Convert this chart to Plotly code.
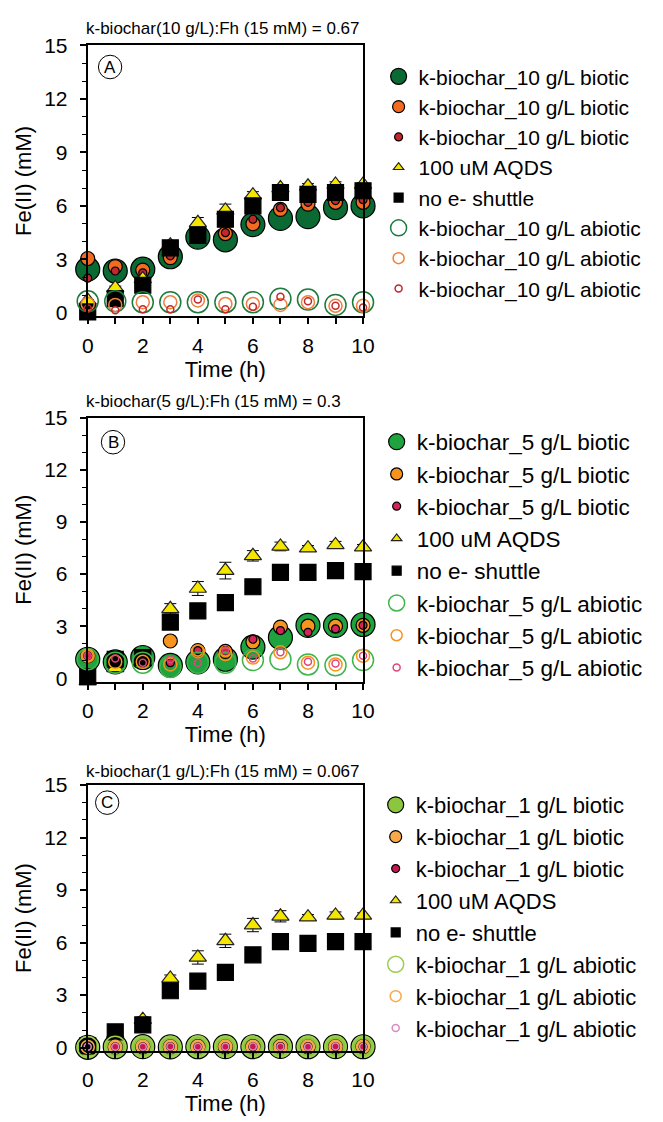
import plotly.graph_objects as go

hours = list(range(11))

# ---- Panel A: k-biochar 10 g/L ----
a_biotic_1 = [2.45, 2.35, 2.45, 3.15, 4.25, 4.1, 4.95, 5.3, 5.4, 5.9, 6.0]
a_biotic_2 = [3.05, 2.6, 2.4, 3.1, 4.3, 4.45, 5.0, 5.8, 6.1, 6.2, 6.2]
a_biotic_3 = [1.95, 2.35, 2.25, 3.2, 4.3, 4.5, 5.25, 5.9, 6.2, 6.3, 6.35]
a_aqds = [0.7, 1.4, 1.9, 3.8, 5.05, 5.75, 6.6, 7.0, 7.1, 7.2, 7.2]
a_aqds_err = [0.05, 0.1, 0.1, 0.2, 0.3, 0.35, 0.2, 0.15, 0.15, 0.15, 0.1]
a_no_shuttle = [0.05, 0.8, 1.55, 3.65, 4.35, 5.25, 6.0, 6.75, 6.65, 6.75, 6.85]
a_abiotic_1 = [0.65, 0.65, 0.6, 0.6, 0.6, 0.6, 0.6, 0.8, 0.75, 0.45, 0.6]
a_abiotic_2 = [0.5, 0.45, 0.6, 0.6, 0.7, 0.5, 0.5, 0.45, 0.6, 0.4, 0.4]
a_abiotic_3 = [0.25, 0.15, 0.2, 0.2, 0.75, 0.2, 0.35, 0.9, 0.65, 0.4, 0.3]

# ---- Panel B: k-biochar 5 g/L ----
b_biotic_1 = [1.1, 0.95, 1.2, 0.75, 0.95, 1.1, 1.8, 2.35, 3.05, 3.05, 3.1]
b_biotic_2 = [1.3, 1.0, 1.0, 2.15, 1.6, 1.55, 2.1, 2.95, 3.0, 3.0, 3.05]
b_biotic_3 = [1.3, 1.2, 0.9, 0.9, 1.6, 1.6, 2.25, 2.75, 2.65, 2.85, 3.05]
b_aqds = [-0.15, 0.6, 1.2, 4.0, 5.17, 6.2, 7.05, 7.59, 7.49, 7.68, 7.55]
b_aqds_err = [0.05, 0.1, 0.1, 0.3, 0.4, 0.48, 0.3, 0.25, 0.15, 0.2, 0.15]
b_no_shuttle = [0.1, 1.1, 1.2, 3.24, 3.88, 4.36, 5.27, 6.1, 6.1, 6.2, 6.14]
b_abiotic_1 = [1.1, 0.9, 0.9, 0.65, 0.9, 0.9, 1.05, 1.1, 0.8, 0.75, 1.05]
b_abiotic_2 = [1.3, 0.95, 0.95, 0.8, 1.55, 1.4, 1.2, 1.5, 0.9, 0.8, 1.3]
b_abiotic_3 = [1.3, 1.15, 0.9, 1.1, 0.9, 1.6, 1.15, 1.5, 0.95, 0.85, 1.3]

# ---- Panel C: k-biochar 1 g/L ----
c_biotic_1 = [0.02, 0.05, 0.06, 0.04, 0.05, 0.06, 0.05, 0.07, 0.05, 0.06, 0.05]
c_biotic_2 = [0.03, 0.04, 0.05, 0.05, 0.06, 0.05, 0.06, 0.06, 0.05, 0.05, 0.06]
c_biotic_3 = [0.04, 0.05, 0.05, 0.06, 0.05, 0.05, 0.05, 0.06, 0.06, 0.05, 0.05]
c_aqds = [-0.12, 0.8, 1.6, 3.95, 5.15, 6.1, 7.0, 7.5, 7.45, 7.55, 7.55]
c_aqds_err = [0.05, 0.1, 0.15, 0.2, 0.38, 0.38, 0.38, 0.32, 0.15, 0.2, 0.15]
c_no_shuttle = [0.1, 0.9, 1.3, 3.25, 3.8, 4.3, 5.3, 6.05, 5.95, 6.05, 6.05]
c_abiotic_1 = [0.03, 0.05, 0.05, 0.05, 0.06, 0.05, 0.06, 0.06, 0.05, 0.06, 0.05]
c_abiotic_2 = [0.04, 0.05, 0.06, 0.05, 0.05, 0.06, 0.05, 0.05, 0.06, 0.05, 0.06]
c_abiotic_3 = [0.05, 0.05, 0.05, 0.06, 0.05, 0.05, 0.06, 0.05, 0.05, 0.06, 0.05]

panel_titles = [
    "k-biochar(10 g/L):Fh (15 mM) = 0.67",
    "k-biochar(5 g/L):Fh (15 mM) = 0.3",
    "k-biochar(1 g/L):Fh (15 mM) = 0.067",
]
panel_letters = ["A", "B", "C"]
doses = ["10", "5", "1"]

# colours per panel: biotic big, biotic mid, biotic small, abiotic big, abiotic mid, abiotic small
panel_colors = [
    ["#0b6a34", "#f26b21", "#c1272d", "#1c7a3e", "#f07f3c", "#c1272d"],
    ["#1fa33f", "#f7941d", "#d4245a", "#3db54a", "#f7941d", "#e0457b"],
    ["#8cc63f", "#f9a84a", "#c8174f", "#9ccf4f", "#f9a84a", "#d98cc0"],
]

panel_data = [
    (a_biotic_1, a_biotic_2, a_biotic_3, a_aqds, a_aqds_err, a_no_shuttle,
     a_abiotic_1, a_abiotic_2, a_abiotic_3),
    (b_biotic_1, b_biotic_2, b_biotic_3, b_aqds, b_aqds_err, b_no_shuttle,
     b_abiotic_1, b_abiotic_2, b_abiotic_3),
    (c_biotic_1, c_biotic_2, c_biotic_3, c_aqds, c_aqds_err, c_no_shuttle,
     c_abiotic_1, c_abiotic_2, c_abiotic_3),
]

FONT = "Liberation Sans, Arial, sans-serif"
W, H = 663, 1122

# plot-area pixel boxes (top, bottom) for each panel
x_left_px, x_right_px = 84, 367
panel_boxes = [(34, 310), (413, 682), (787, 1058)]
title_centers = [17, 397, 773]
letter_centers = [(107, 56), (110, 438), (104, 805)]
# legend placement: left edge, top edge, font size, extra gap between entries
legend_specs = [(383, 45, 21, 0.0), (381, 416, 22.5, 0.0), (380, 786, 22, 0.3)]

fig = go.Figure()

for i in range(3):
    (bio1, bio2, bio3, aqds, aqds_err, nosh, abio1, abio2, abio3) = panel_data[i]
    cols = panel_colors[i]
    sfx = "" if i == 0 else str(i + 1)
    xa, ya = "x" + sfx, "y" + sfx
    leg = "legend" + sfx
    dose = doses[i]
    bio_name = f"k-biochar_{dose} g/L biotic"
    abio_name = f"k-biochar_{dose} g/L abiotic"

    # (name, y, symbol, size, colour, outline, legend size, error)
    series = [
        (bio_name, bio1, "circle", 24, cols[0], "black", 18, None),
        (bio_name, bio2, "circle", 14, cols[1], "black", 12, None),
        (bio_name, bio3, "circle", 8, cols[2], "black", 8, None),
        ("100 uM AQDS", aqds, "triangle-up", 15, "#f5e600", "#222222", 9, aqds_err),
        ("no e- shuttle", nosh, "square", 16, "black", "black", 9, None),
        (abio_name, abio1, "circle-open", 21, cols[3], None, 17, None),
        (abio_name, abio2, "circle-open", 13, cols[4], None, 11, None),
        (abio_name, abio3, "circle-open", 7, cols[5], None, 7, None),
    ]

    for k, (name, yv, sym, size, col, outline, lsize, err) in enumerate(series):
        group = f"{leg}_{k}"
        if sym.endswith("open"):
            mk = dict(symbol=sym, size=size, color=col, line=dict(width=1.5, color=col))
            lmk = dict(symbol=sym, size=lsize, color=col, line=dict(width=1.5, color=col))
        else:
            mk = dict(symbol=sym, size=size, color=col, line=dict(width=1.2, color=outline))
            lmk = dict(symbol=sym, size=lsize, color=col, line=dict(width=1.2, color=outline))
        tr = dict(x=hours, y=yv, mode="markers", marker=mk, name=name,
                  xaxis=xa, yaxis=ya, showlegend=False, cliponaxis=False,
                  legendgroup=group, hoverinfo="skip")
        if err is not None:
            tr["error_y"] = dict(type="data", array=err, visible=True,
                                 color="black", thickness=1, width=6)
        fig.add_trace(go.Scatter(**tr))
        # legend entry
        fig.add_trace(go.Scatter(x=[None], y=[None], mode="markers", marker=lmk,
                                 name=name, xaxis=xa, yaxis=ya, legend=leg,
                                 legendgroup=group, showlegend=True, hoverinfo="skip"))

    top, bot = panel_boxes[i]
    ydom = [1 - bot / H, 1 - top / H]
    xdom = [x_left_px / W, x_right_px / W]
    lx, ltop, lfs, lgap = legend_specs[i]

    fig.update_layout({
        "xaxis" + sfx: dict(
            domain=xdom, anchor=ya, range=[0, 10], tickmode="linear", tick0=0, dtick=2,
            ticks="outside", ticklen=6, tickwidth=1.5, tickcolor="black",
            minor=dict(dtick=1, ticks="outside", ticklen=6, tickwidth=1.5, tickcolor="black"),
            showline=True, linecolor="black", linewidth=2, mirror=True,
            showgrid=False, zeroline=False,
            tickfont=dict(family=FONT, size=21, color="black"),
            title=dict(text="Time (h)", font=dict(family=FONT, size=22, color="black"),
                       standoff=2),
            ticklabelstandoff=3,
        ),
        "yaxis" + sfx: dict(
            domain=ydom, anchor=xa, range=[-0.2, 15], tickmode="linear", tick0=0, dtick=3,
            ticks="outside", ticklen=6, tickwidth=1.5, tickcolor="black",
            minor=dict(dtick=1, ticks="outside", ticklen=4, tickwidth=1.2, tickcolor="black"),
            showline=True, linecolor="black", linewidth=2, mirror=True,
            showgrid=False, zeroline=False,
            tickfont=dict(family=FONT, size=21, color="black"),
            title=dict(text="Fe(II) (mM)", font=dict(family=FONT, size=22, color="black"),
                       standoff=6),
            ticklabelstandoff=8,
        ),
        leg: dict(
            x=lx / W, xanchor="left", y=1 - ltop / H, yanchor="top",
            font=dict(family=FONT, size=lfs, color="black"),
            bgcolor="rgba(0,0,0,0)", borderwidth=0, itemsizing="trace",
            tracegroupgap=lgap, traceorder="grouped",
        ),
    })

    # panel title
    fig.add_annotation(text=panel_titles[i], xref="paper", yref="paper",
                       x=80 / W, y=1 - title_centers[i] / H, xanchor="left", yanchor="middle",
                       showarrow=False, font=dict(family=FONT, size=17, color="black"))

    # circled panel letter
    lpx, lpy = letter_centers[i]
    cx = (lpx - x_left_px) / (x_right_px - x_left_px)
    cy = (bot - lpy) / (bot - top)
    rx = 12 / (x_right_px - x_left_px)
    ry = 12 / (bot - top)
    fig.add_shape(type="circle", xref=xa + " domain", yref=ya + " domain",
                  x0=cx - rx, x1=cx + rx, y0=cy - ry, y1=cy + ry,
                  line=dict(color="black", width=1))
    fig.add_annotation(text=panel_letters[i], xref=xa + " domain", yref=ya + " domain",
                       x=cx, y=cy, xanchor="center", yanchor="middle", showarrow=False,
                       font=dict(family=FONT, size=17, color="black"))

fig.update_layout(
    width=W, height=H,
    margin=dict(l=0, r=0, t=0, b=0),
    paper_bgcolor="white", plot_bgcolor="white",
    font=dict(family=FONT, color="black"),
)

fig.write_html("out.html")
